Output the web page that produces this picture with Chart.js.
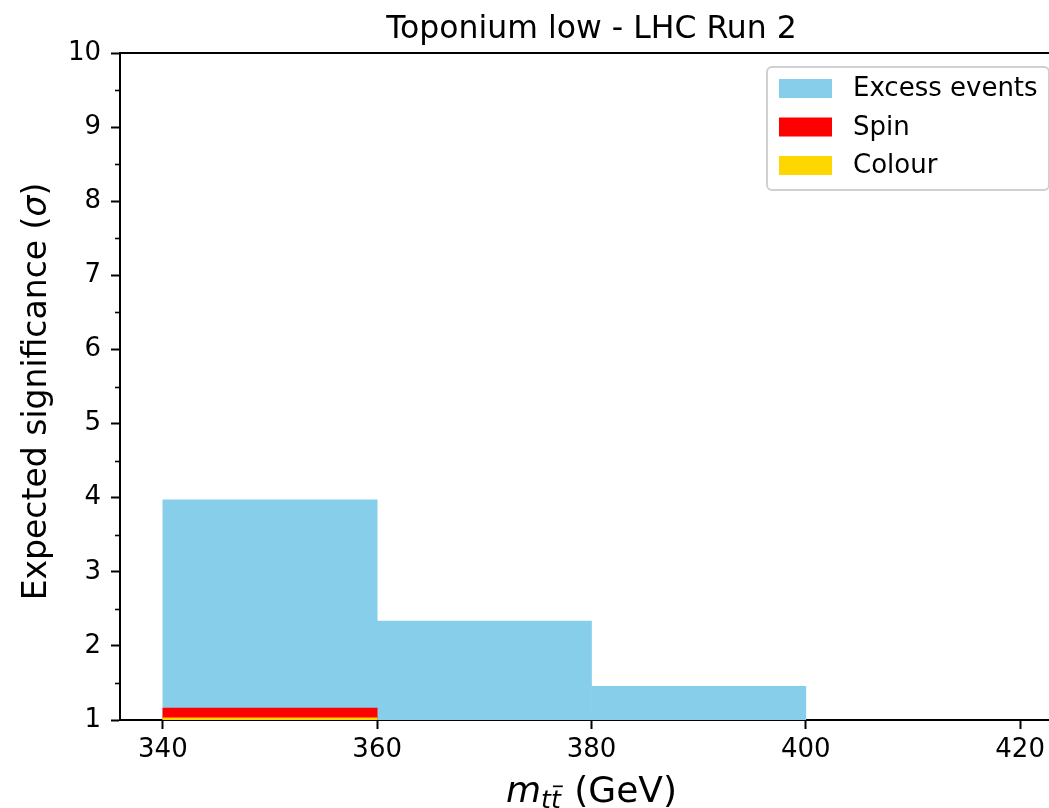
<!DOCTYPE html>
<html>
<head>
<meta charset="utf-8">
<script src="https://cdn.jsdelivr.net/npm/chart.js@4/dist/chart.umd.min.js"></script>
<style>
  html, body { margin: 0; padding: 0; background: #fff; overflow: hidden; }
  #wrap { width: 1075px; height: 808px; }
</style>
</head>
<body>
<div id="wrap"><canvas id="c" width="1075" height="808"></canvas></div>
<script>
// ---- data ----
const binCentres = [350, 370, 390, 410];          // bins 340-360, 360-380, 380-400, 400-420 GeV
const excessEvents = [3.97, 2.335, 1.453, 0];
const spin = [1.16, 0, 0, 0];
const colour = [1.03, 0, 0, 0];
const xTicks = [340, 360, 380, 400, 420];
const yTicks = [1, 2, 3, 4, 5, 6, 7, 8, 9, 10];
const yMinorTicks = [1.5, 2.5, 3.5, 4.5, 5.5, 6.5, 7.5, 8.5, 9.5];
const seriesNames = ['Excess events', 'Spin', 'Colour'];
const seriesColours = ['#87CEEB', '#FF0000', '#FFD700'];
const titleText = 'Toponium low - LHC Run 2';

const FONT = '"DejaVu Sans", "Liberation Sans", sans-serif';
const toPts = (vals) => binCentres.map((x, i) => ({ x: x, y: vals[i] }));

const frameAndText = {
  id: 'frameAndText',
  afterDraw(chart) {
    const { ctx, chartArea: a, scales } = chart;
    ctx.save();
    // top and right spines
    ctx.strokeStyle = '#000';
    ctx.lineWidth = 2;
    ctx.beginPath();
    ctx.moveTo(a.left - 1, a.top);
    ctx.lineTo(a.right, a.top);
    ctx.lineTo(a.right, a.bottom);
    ctx.stroke();
    // minor y ticks
    ctx.lineWidth = 1.6;
    yMinorTicks.forEach(v => {
      const py = Math.round(scales.y.getPixelForValue(v)) + 0.5;
      ctx.beginPath();
      ctx.moveTo(a.left - 5, py);
      ctx.lineTo(a.left, py);
      ctx.stroke();
    });
    // title
    const cx = (a.left + a.right) / 2;
    ctx.fillStyle = '#000';
    ctx.font = '31.5px ' + FONT;
    ctx.textAlign = 'center';
    ctx.textBaseline = 'alphabetic';
    ctx.fillText(titleText, cx, 38);

    // x label: m_{t tbar} (GeV)
    const fs = 36, sub = fs * 0.7;
    ctx.textAlign = 'left';
    ctx.font = 'italic ' + fs + 'px ' + FONT;
    const wm = ctx.measureText('m').width;
    ctx.font = 'italic ' + sub + 'px ' + FONT;
    const wt = ctx.measureText('t').width;
    ctx.font = fs + 'px ' + FONT;
    const wg = ctx.measureText(' (GeV)').width;
    const total = wm + 2 * wt + 2 + wg;
    let x0 = cx - total / 2;
    const by = 802;
    ctx.font = 'italic ' + fs + 'px ' + FONT;
    ctx.fillText('m', x0, by);
    x0 += wm;
    ctx.font = 'italic ' + sub + 'px ' + FONT;
    const sy = by + 6;
    ctx.fillText('t', x0, sy);
    ctx.fillText('t', x0 + wt, sy);
    // bar over second t
    ctx.lineWidth = 1.7;
    ctx.beginPath();
    ctx.moveTo(x0 + wt + 2, sy - sub * 0.86);
    ctx.lineTo(x0 + 2 * wt + 2, sy - sub * 0.86);
    ctx.stroke();
    x0 += 2 * wt + 2;
    ctx.font = fs + 'px ' + FONT;
    ctx.fillText(' (GeV)', x0, by);

    // y label
    const fy = 33;
    const ly = (a.top + a.bottom) / 2 + 5;
    ctx.save();
    ctx.translate(46, ly);
    ctx.rotate(-Math.PI / 2);
    const p1 = 'Expected significance (', p2 = 'σ', p3 = ')';
    ctx.font = fy + 'px ' + FONT;
    const w1 = ctx.measureText(p1).width, w3 = ctx.measureText(p3).width;
    ctx.font = 'italic ' + fy + 'px ' + FONT;
    const w2 = ctx.measureText(p2).width;
    let yx = -(w1 + w2 + w3) / 2;
    ctx.font = fy + 'px ' + FONT;
    ctx.fillText(p1, yx, 0); yx += w1;
    ctx.font = 'italic ' + fy + 'px ' + FONT;
    ctx.fillText(p2, yx, 0); yx += w2;
    ctx.font = fy + 'px ' + FONT;
    ctx.fillText(p3, yx, 0);
    ctx.restore();

    // legend
    const lx = 767, ltop = 67, lw = 282, lh = 123;
    ctx.beginPath();
    ctx.roundRect(lx, ltop, lw, lh, 5);
    ctx.fillStyle = 'rgba(255,255,255,0.8)';
    ctx.fill();
    ctx.strokeStyle = '#d0d0d0';
    ctx.lineWidth = 2;
    ctx.stroke();
    ctx.font = '26px ' + FONT;
    ctx.textBaseline = 'middle';
    chart.data.datasets.forEach((ds, i) => {
      const cy = 88.5 + i * 38.5;
      ctx.fillStyle = ds.backgroundColor;
      ctx.fillRect(779, cy - 9.5, 53, 19);
      ctx.fillStyle = '#000';
      ctx.fillText(ds.label, 853, cy + 1);
    });
    ctx.restore();
  }
};

new Chart(document.getElementById('c'), {
  type: 'bar',
  data: {
    datasets: [
      { label: seriesNames[0], data: toPts(excessEvents), backgroundColor: seriesColours[0], order: 3 },
      { label: seriesNames[1], data: toPts(spin), backgroundColor: seriesColours[1], order: 2 },
      { label: seriesNames[2], data: toPts(colour), backgroundColor: seriesColours[2], order: 1 }
    ]
  },
  options: {
    responsive: false,
    devicePixelRatio: 1,
    animation: false,
    layout: { padding: { top: 53, right: 12, left: 0, bottom: 0 } },
    datasets: { bar: { grouped: false, barPercentage: 1, categoryPercentage: 1, borderWidth: 0 } },
    plugins: { legend: { display: false }, tooltip: { enabled: false }, title: { display: false } },
    scales: {
      x: {
        type: 'linear',
        offset: false,
        min: 336, max: 424,
        afterBuildTicks: s => { s.ticks = xTicks.map(v => ({ value: v })); },
        afterFit: s => { s.height = 88; },
        grid: { offset: false, drawOnChartArea: false, drawTicks: true, tickLength: 9, tickWidth: 2, tickColor: '#000' },
        border: { display: true, color: '#000', width: 2 },
        ticks: { color: '#000', font: { family: FONT, size: 26 }, padding: 6, maxRotation: 0, autoSkip: false }
      },
      y: {
        type: 'linear',
        min: 1, max: 10,
        afterBuildTicks: s => { s.ticks = yTicks.map(v => ({ value: v })); },
        afterFit: s => { s.width = 120; },
        grid: { drawOnChartArea: false, drawTicks: true, tickLength: 9, tickWidth: 2, tickColor: '#000' },
        border: { display: true, color: '#000', width: 2 },
        ticks: { color: '#000', font: { family: FONT, size: 26 }, padding: 10 }
      }
    }
  },
  plugins: [frameAndText]
});
</script>
</body>
</html>
